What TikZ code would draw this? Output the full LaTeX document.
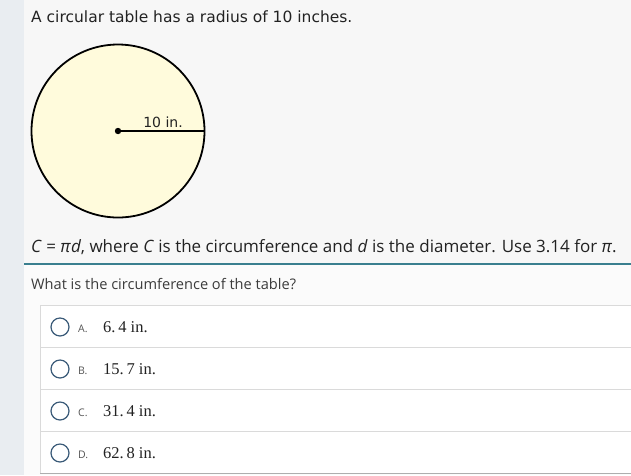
\documentclass[tikz,border=0pt]{standalone}
\usepackage{fontspec}
\setmainfont{DejaVu Sans}
\newfontfamily\osans{Open Sans}
\newfontfamily\tserif{Liberation Serif}
\definecolor{strip}{HTML}{E9EDF1}
\definecolor{topbg}{HTML}{F7F7F7}
\definecolor{lowbg}{HTML}{FBFBFB}
\definecolor{tablefill}{HTML}{FFFBDC}
\definecolor{teal}{HTML}{3A7F8F}
\definecolor{rowline}{HTML}{DADADA}
\definecolor{radio}{HTML}{3A5A78}
\definecolor{txt}{HTML}{222222}
\definecolor{lbl}{HTML}{555555}
\tikzset{
  txtnode/.style={inner sep=0pt, anchor=base west, text=txt},
  rowbox/.style={draw=rowline, fill=white, line width=0.8pt},
  radiobtn/.style={circle, draw=radio, line width=1.2pt, minimum size=18pt, inner sep=0pt},
  letter/.style={inner sep=0pt, anchor=base west, text=lbl, font=\osans\fontsize{10.5}{12}\selectfont},
  answer/.style={inner sep=0pt, anchor=base west, text=txt, font=\tserif\fontsize{16.5}{19}\selectfont},
}
\begin{document}
\begin{tikzpicture}[x=1pt,y=-1pt]
\useasboundingbox (0,0) rectangle (631,475);
% backgrounds
\fill[lowbg] (0,0) rectangle (631,475);
\fill[strip] (0,0) rectangle (24,475);
\fill[topbg] (24,0) rectangle (631,263);
% headline
\node[txtnode, font=\fontsize{15.5}{18}\selectfont] (head) at (31,22) {A circular table has a radius of 10 inches.};
% circle
\coordinate (ctr) at (118,131);
\draw[fill=tablefill, line width=1.8pt] (ctr) circle[radius=86.5];
\coordinate (rim) at (205,131);
\draw[line width=1.8pt] (ctr) -- (rim);
\fill (ctr) circle[radius=3.2];
\node[inner sep=0pt, anchor=base, font=\fontsize{14}{16}\selectfont, text=txt] (rlab) at (163,127) {10 in.};
% formula
\node[txtnode, font=\osans\fontsize{17}{20}\selectfont] (formula) at (31,252) {\textit{C} = \textit{π}\textit{d}, where \textit{C} is the circumference and \textit{d} is the diameter. Use 3.14 for \textit{π}.};
\coordinate (tl) at (24,263.5);
\coordinate (tr) at (631,263.5);
\draw[teal, line width=2pt] (tl) -- (tr);
% question
\node[txtnode, font=\osans\fontsize{14.6}{17}\selectfont, text=lbl!70!black] (q) at (31,289) {What is the circumference of the table?};
% answer rows
\draw[rowbox] (40,305) rectangle (640,347);
\draw[rowbox] (40,347) rectangle (640,389);
\draw[rowbox] (40,389) rectangle (640,431);
\draw[rowbox] (40,431) rectangle (640,473);
\draw[rowline!80!black, line width=1pt] (40,473.5) -- (640,473.5);
\foreach \y/\L/\V [count=\i] in {327/A./6.\,4 in., 369/B./15.\,7 in., 411/C./31.\,4 in., 453/D./62.\,8 in.}{
  \node[radiobtn] (r\i) at (60,\y) {};
  \node[letter] (l\i) at (78,\y+5) {\L};
  \node[answer] (a\i) at (103,\y+5.5) {\V};
}
\end{tikzpicture}
\end{document}
